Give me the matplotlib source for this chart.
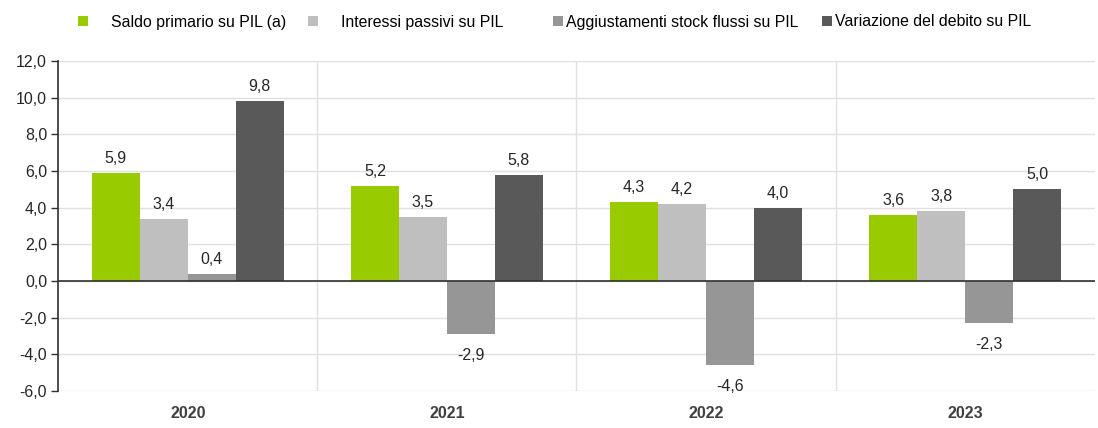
import matplotlib
matplotlib.use("Agg")
import matplotlib.pyplot as plt
import numpy as np
from matplotlib.ticker import FuncFormatter, MultipleLocator
from matplotlib.patches import Patch

plt.rcParams['font.family'] = ['Liberation Sans', 'DejaVu Sans']

years = ["2020", "2021", "2022", "2023"]
series_names = ["Saldo primario su PIL (a)", "Interessi passivi su PIL",
                "Aggiustamenti stock flussi su PIL", "Variazione del debito su PIL"]
saldo = [5.9, 5.2, 4.3, 3.6]
interessi = [3.4, 3.5, 4.2, 3.8]
aggiustamenti = [0.4, -2.9, -4.6, -2.3]
variazione = [9.8, 5.8, 4.0, 5.0]
series = [saldo, interessi, aggiustamenti, variazione]
colors = ["#99CC00", "#BFBFBF", "#969696", "#595959"]

fig = plt.figure(figsize=(10.98, 4.28), dpi=100)
ax = fig.add_axes([0.053, 0.0864, 0.944, 0.771])

x = np.arange(len(years))
w = 0.185
for i, (vals, c) in enumerate(zip(series, colors)):
    pos = x + (i - 1.5) * w
    ax.bar(pos, vals, width=w, color=c, zorder=3, linewidth=0)
    for px, v in zip(pos, vals):
        lbl = f"{v:.1f}".replace(".", ",")
        if v >= 0:
            ax.annotate(lbl, (px, v), xytext=(0, 5), textcoords="offset points",
                        ha="center", va="bottom", fontsize=11.5, color="#262626")
        else:
            ax.annotate(lbl, (px, v), xytext=(0, -10), textcoords="offset points",
                        ha="center", va="top", fontsize=11.5, color="#262626")

ax.set_xlim(-0.5, 3.5)
ax.set_ylim(-6, 12)
ax.yaxis.set_major_locator(MultipleLocator(2))
ax.yaxis.set_major_formatter(FuncFormatter(lambda v, p: f"{v:.1f}".replace(".", ",")))
ax.grid(axis="y", color="#E0E0E0", linewidth=1, zorder=0)
for b in [0.5, 1.5, 2.5]:
    ax.axvline(b, color="#E0E0E0", linewidth=1, zorder=0)
ax.axhline(0, color="#303030", linewidth=1.2, zorder=4)

ax.set_xticks(x)
ax.set_xticklabels(years, fontweight="bold", fontsize=11.5, color="#404040")
ax.tick_params(axis="x", length=0, pad=11)
ax.tick_params(axis="y", length=5, width=1, color="#303030", labelsize=11.5,
               labelcolor="#262626", pad=3)
for s in ["top", "right", "bottom"]:
    ax.spines[s].set_visible(False)
ax.spines["left"].set_color("#303030")
ax.spines["left"].set_linewidth(1.2)

# legend entries placed individually to reproduce the uneven spacing
leg_x = [78, 308, 553, 822]
leg_pad = [1.45, 1.45, 0.15, 0.15]
for name, c, lx, pad in zip(series_names, colors, leg_x, leg_pad):
    fig.legend([Patch(facecolor=c, edgecolor="none")], [name], loc="center left",
               bbox_to_anchor=(lx / 1098, 1 - 22 / 428), frameon=False, fontsize=11.4,
               handlelength=0.65, handleheight=0.65, handletextpad=pad,
               borderpad=0, borderaxespad=0)

fig.savefig("out.png", dpi=100)
